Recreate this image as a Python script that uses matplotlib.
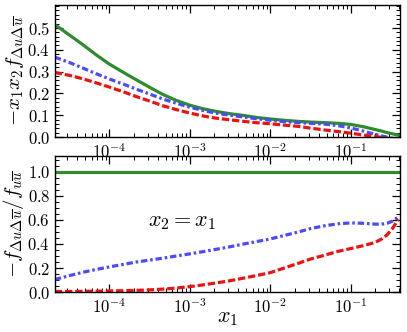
import matplotlib
matplotlib.use("Agg")
import matplotlib.pyplot as plt
import numpy as np
from matplotlib.ticker import MultipleLocator, FixedLocator, LogLocator, NullFormatter

plt.rcParams['font.family'] = 'serif'
plt.rcParams['font.serif'] = ['cmr10']
plt.rcParams['mathtext.fontset'] = 'cm'
plt.rcParams['axes.formatter.use_mathtext'] = True

# log10(x1) sample positions
log_x1 = [-4.68, -4.5, -4.33, -4.17, -4.0, -3.83, -3.67, -3.5, -3.34, -3.17,
          -3.0, -2.84, -2.68, -2.5, -2.33, -2.17, -2.0, -1.83, -1.65, -1.5,
          -1.31, -1.15, -1.0, -0.85, -0.7, -0.62, -0.55, -0.48, -0.41]
x1 = 10 ** np.array(log_x1)

# top panel: -x1 x2 f_{du dubar}
top_green = [0.515, 0.468, 0.423, 0.378, 0.334, 0.297, 0.263, 0.228, 0.196, 0.168,
             0.146, 0.130, 0.118, 0.107, 0.099, 0.090, 0.083, 0.077, 0.072, 0.069,
             0.066, 0.063, 0.058, 0.048, 0.035, 0.028, 0.021, 0.015, 0.009]
top_blue = [0.366, 0.342, 0.316, 0.291, 0.266, 0.243, 0.220, 0.197, 0.175, 0.155,
            0.137, 0.122, 0.110, 0.100, 0.092, 0.084, 0.077, 0.071, 0.066, 0.063,
            0.059, 0.052, 0.042, 0.028, 0.013, 0.006, 0.000, -0.006, -0.012]
top_red = [0.296, 0.283, 0.267, 0.249, 0.229, 0.208, 0.186, 0.165, 0.144, 0.126,
           0.110, 0.097, 0.087, 0.079, 0.072, 0.066, 0.061, 0.055, 0.049, 0.041,
           0.032, 0.025, 0.018, 0.010, 0.003, -0.001, -0.005, -0.009, -0.012]

# bottom panel: -f_{du dubar} / f_{u ubar}
bot_green = [1.0] * len(log_x1)
bot_blue = [0.105, 0.137, 0.165, 0.188, 0.210, 0.230, 0.250, 0.266, 0.282, 0.300,
            0.318, 0.336, 0.355, 0.377, 0.400, 0.420, 0.442, 0.470, 0.500, 0.528,
            0.553, 0.568, 0.575, 0.572, 0.565, 0.564, 0.572, 0.590, 0.625]
bot_red = [0.005, 0.006, 0.007, 0.008, 0.010, 0.012, 0.015, 0.019, 0.025, 0.034,
           0.046, 0.060, 0.076, 0.095, 0.117, 0.138, 0.162, 0.200, 0.240, 0.275,
           0.310, 0.340, 0.362, 0.385, 0.412, 0.440, 0.475, 0.530, 0.605]

green = '#2e8b2e'
blue = '#4a4aff'
red = '#ee1111'

fig = plt.figure(figsize=(4.07, 3.32), dpi=100)
ax1 = fig.add_axes([0.135, 0.587, 0.848, 0.398])
ax2 = fig.add_axes([0.135, 0.12, 0.848, 0.41])

for ax, g, b, r in [(ax1, top_green, top_blue, top_red),
                    (ax2, bot_green, bot_blue, bot_red)]:
    ax.plot(x1, g, color=green, lw=2.3, ls='-')
    ax.plot(x1, b, color=blue, lw=2.3, ls=(0, (2.0, 0.9, 0.8, 0.9)))
    ax.plot(x1, r, color=red, lw=2.3, ls=(0, (2.3, 0.9)))
    ax.set_xscale('log')
    ax.set_xlim(2.1e-5, 0.41)
    ax.xaxis.set_major_locator(LogLocator(base=10, numticks=10))
    ax.xaxis.set_minor_locator(LogLocator(base=10, subs=np.arange(2, 10), numticks=10))
    ax.xaxis.set_minor_formatter(NullFormatter())
    ax.tick_params(which='both', direction='in', top=True, right=True, labelsize=12)
    ax.tick_params(which='major', length=6, width=0.9)
    ax.tick_params(which='minor', length=3, width=0.7)
    for s in ax.spines.values():
        s.set_linewidth(1.0)

ax1.set_ylim(0, 0.605)
ax1.yaxis.set_major_locator(FixedLocator([0.0, 0.1, 0.2, 0.3, 0.4, 0.5]))
ax1.yaxis.set_minor_locator(MultipleLocator(0.02))
ax1.set_ylabel(r'$-x_1x_2f_{\Delta u\Delta\overline{u}}$', fontsize=15)
ax1.yaxis.set_label_coords(-0.085, 0.5)

ax2.set_ylim(0, 1.13)
ax2.yaxis.set_major_locator(MultipleLocator(0.2))
ax2.yaxis.set_minor_locator(MultipleLocator(0.05))
ax2.set_ylabel(r'$-f_{\Delta u\Delta\overline{u}}/f_{u\overline{u}}$', fontsize=15)
ax2.yaxis.set_label_coords(-0.085, 0.5)
ax2.set_xlabel(r'$x_1$', fontsize=16, va='center')
ax2.xaxis.set_label_coords(0.5, -0.19)
ax2.text(0.27, 0.51, r'$x_2 = x_1$', transform=ax2.transAxes, fontsize=16,
         va='center', ha='left')

fig.savefig('out.png', dpi=100)
